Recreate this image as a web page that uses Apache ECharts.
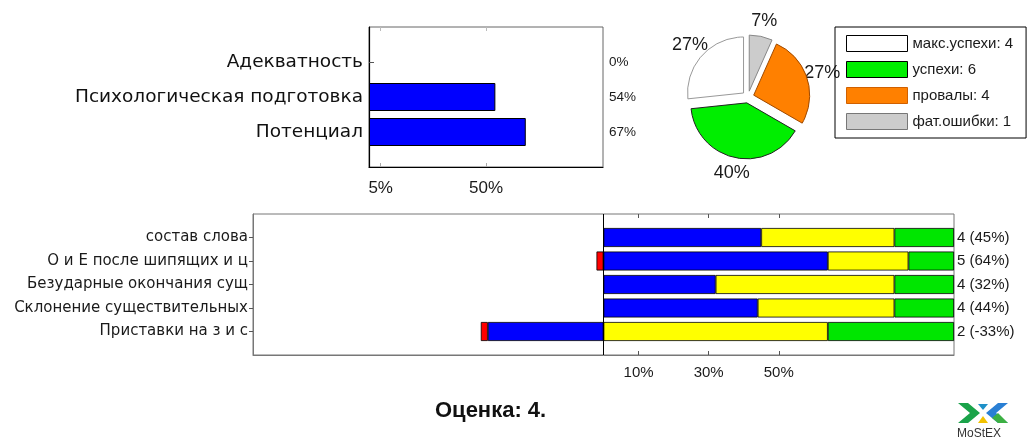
<!DOCTYPE html>
<html>
<head>
<meta charset="utf-8">
<script src="https://cdn.jsdelivr.net/npm/echarts@6/dist/echarts.min.js"></script>
<style>
  html, body { margin: 0; padding: 0; background: #fff; }
  #chart { width: 1030px; height: 444px; }
</style>
</head>
<body>
<div id="chart"></div>
<script>
// верхний график
const topCats = ["Адекватность", "Психологическая подготовка", "Потенциал"];
const topValues = [0, 54, 67];
const topTicks = [5, 50];

// круговая диаграмма
const pieNames = ["фат.ошибки", "провалы", "успехи", "макс.успехи"];
const pieValues = [1, 4, 6, 4];
const pieColors = ["#cccccc", "#ff8000", "#00ee00", "#ffffff"];
const pieBorders = ["#888888", "#a04a00", "#222222", "#999999"];
const legendOrder = ["макс.успехи", "успехи", "провалы", "фат.ошибки"];

// нижний график
const botCats = ["состав слова", "О и Е после шипящих и ц", "Безударные окончания сущ",
  "Склонение существительных", "Приставки на з и с"];
const botBlue = [45, 64, 32, 44, -33];
const botRed = [0, -2, 0, 0, -2];
const botYellow = [38, 23, 51, 39, 64];
const botGreen = [17, 13, 17, 17, 36];
const botMarks = [4, 5, 4, 4, 2];
const botTicks = [10, 30, 50];

const finalMark = 4;

const pad = a => ["", ...a, ""];
const padData = a => ["-", ...a.map(v => (v === 0 ? "-" : v)), "-"];
const realTick = (i, v) => v !== "";

const txt = "#1a1a1a";
const sans = "Liberation Sans";
const wide = "DejaVu Sans";

let myChart = echarts.init(document.getElementById("chart"));
let option = {
  animation: false,
  backgroundColor: "#fff",
  textStyle: { fontFamily: sans },
  title: {
    text: "Оценка: " + finalMark + ".",
    left: 435, top: 400, padding: 0,
    textStyle: { fontSize: 22, fontWeight: "bold", color: "#111", fontFamily: sans }
  },
  grid: [
    { left: 369, top: 27, width: 234, height: 140, show: true, borderColor: "#666", borderWidth: 1 },
    { left: 253, top: 214, width: 701, height: 141, show: true, borderColor: "#777", borderWidth: 1 }
  ],
  xAxis: [
    {
      gridIndex: 0, type: "value", min: 0, max: 100, position: "bottom",
      axisLine: { show: true, lineStyle: { color: "#000", width: 1.2 } },
      axisTick: { show: true, inside: true, length: 4, customValues: topTicks, lineStyle: { color: "#aaa" } },
      axisLabel: { customValues: topTicks, formatter: "{value}%", fontSize: 17, color: txt, margin: 13 },
      splitLine: { show: false }
    },
    {
      gridIndex: 0, type: "value", min: 0, max: 100, position: "top",
      axisLine: { show: false },
      axisTick: { show: true, inside: true, length: 4, customValues: topTicks, lineStyle: { color: "#bbb" } },
      axisLabel: { show: false },
      splitLine: { show: false }
    },
    {
      gridIndex: 1, type: "value", min: -100, max: 100, position: "bottom",
      axisLine: { show: true, onZero: false, lineStyle: { color: "#777" } },
      axisTick: { show: true, inside: true, length: 4, customValues: botTicks, lineStyle: { color: "#555" } },
      axisLabel: { customValues: botTicks, formatter: "{value}%", fontSize: 15, color: txt, margin: 10 },
      splitLine: { show: false }
    },
    {
      gridIndex: 1, type: "value", min: -100, max: 100, position: "top",
      axisLine: { show: false },
      axisTick: { show: true, inside: true, length: 4, customValues: botTicks, lineStyle: { color: "#555" } },
      axisLabel: { show: false },
      splitLine: { show: false }
    }
  ],
  yAxis: [
    {
      gridIndex: 0, type: "category", data: pad(topCats), inverse: true, boundaryGap: false,
      axisLine: { show: true, lineStyle: { color: "#000", width: 1.2 } },
      axisTick: { show: false },
      axisLabel: { interval: 0, fontSize: 18.5, color: "#111", margin: 6, fontFamily: wide }
    },
    {
      gridIndex: 0, type: "category", data: pad(topValues.map(v => v + "%")), inverse: true,
      boundaryGap: false, position: "right",
      axisLine: { show: false },
      axisTick: { show: true, length: 5, interval: realTick, lineStyle: { color: "#555" } },
      axisLabel: { interval: 0, fontSize: 13.5, color: txt, margin: 6 }
    },
    {
      gridIndex: 1, type: "category", data: pad(botCats), inverse: true, boundaryGap: false,
      axisLine: { show: true, onZero: false, lineStyle: { color: "#777" } },
      axisTick: { show: true, length: 4, interval: realTick, lineStyle: { color: "#555" } },
      axisLabel: {
        interval: 0, fontSize: 15, color: txt, margin: 5, fontFamily: wide,
        width: 238, overflow: "truncate", ellipsis: ""
      }
    },
    {
      gridIndex: 1, type: "category", inverse: true, boundaryGap: false, position: "right",
      data: pad(botMarks.map((m, i) => m + " (" + botBlue[i] + "%)")),
      axisLine: { show: false },
      axisTick: { show: false },
      axisLabel: { interval: 0, fontSize: 15, color: txt, margin: 3 }
    }
  ],
  legend: {
    orient: "vertical", left: 835, top: 27,
    padding: [8, 13, 8, 11],
    borderColor: "#000", borderWidth: 1,
    icon: "rect", itemWidth: 61, itemHeight: 16, itemGap: 9,
    selectedMode: false,
    data: legendOrder.map(n => ({
      name: n,
      itemStyle: { borderColor: n === "провалы" ? "#d06000" : (n === "фат.ошибки" ? "#777" : "#000"), borderWidth: 1 }
    })),
    formatter: n => n + ": " + pieValues[pieNames.indexOf(n)],
    textStyle: { fontSize: 15, color: txt }
  },
  series: [
    {
      name: "показатели", type: "bar", xAxisIndex: 0, yAxisIndex: 0,
      data: padData(topValues), barWidth: 28,
      itemStyle: { color: "#0000ff", borderColor: "#000", borderWidth: 1 }
    },
    {
      name: "синий", type: "bar", xAxisIndex: 2, yAxisIndex: 2, stack: "b",
      data: padData(botBlue), barWidth: 19,
      itemStyle: { color: "#0000ff", borderColor: "#000", borderWidth: 0.8 },
      markLine: {
        silent: true, symbol: ["none", "none"], label: { show: false },
        lineStyle: { color: "#000", width: 1, type: "solid" },
        data: [{ xAxis: 0 }]
      }
    },
    {
      name: "красный", type: "bar", xAxisIndex: 2, yAxisIndex: 2, stack: "b",
      data: padData(botRed), barWidth: 19,
      itemStyle: { color: "#ff0000", borderColor: "#000", borderWidth: 0.8 }
    },
    {
      name: "жёлтый", type: "bar", xAxisIndex: 2, yAxisIndex: 2, stack: "b",
      data: padData(botYellow), barWidth: 19,
      itemStyle: { color: "#ffff00", borderColor: "#000", borderWidth: 0.8 }
    },
    {
      name: "зелёный", type: "bar", xAxisIndex: 2, yAxisIndex: 2, stack: "b",
      data: padData(botGreen), barWidth: 19,
      itemStyle: { color: "#00e600", borderColor: "#000", borderWidth: 0.8 }
    },
    {
      name: "итоги", type: "pie", center: [748, 97], radius: 56,
      startAngle: 90, clockwise: true,
      selectedMode: "multiple", selectedOffset: 6,
      label: { show: false }, labelLine: { show: false },
      data: pieNames.map((n, i) => ({
        name: n, value: pieValues[i], selected: true,
        itemStyle: { color: pieColors[i], borderColor: pieBorders[i], borderWidth: 1 }
      }))
    },
    {
      // прозрачное кольцо только для подписей процентов
      name: "подписи", type: "pie", center: [748, 97], radius: [62, 88],
      startAngle: 90, clockwise: true, silent: true, avoidLabelOverlap: false,
      itemStyle: { color: "rgba(0,0,0,0)" },
      label: {
        position: "inside", fontSize: 18, color: txt,
        formatter: p => Math.round(p.percent) + "%"
      },
      labelLine: { show: false },
      data: pieNames.map((n, i) => ({ name: n, value: pieValues[i] }))
    }
  ],
  graphic: [
    // логотип
    { type: "polygon", shape: { points: [[958, 403], [968, 403], [980, 413], [968, 423], [958, 423], [970, 413]] }, style: { fill: "#1aa34a" } },
    { type: "polygon", shape: { points: [[1008, 403], [998, 403], [986, 413], [998, 423], [1008, 423], [996, 413]] }, style: { fill: "#2a7fd4" } },
    { type: "polygon", shape: { points: [[998, 413], [1008, 423], [998, 423], [992, 418]] }, style: { fill: "#3cb043" } },
    { type: "polygon", shape: { points: [[978, 404], [988, 404], [983, 410]] }, style: { fill: "#1e90c8" } },
    { type: "polygon", shape: { points: [[978, 423], [988, 423], [983, 416]] }, style: { fill: "#f2c200" } },
    { type: "text", left: 957, top: 428, style: { text: "MoStEX", fontSize: 12, fill: "#333", fontFamily: sans } }
  ]
};
myChart.setOption(option);
window.addEventListener("resize", function () {
  myChart.resize();
});
</script>
</body>
</html>
